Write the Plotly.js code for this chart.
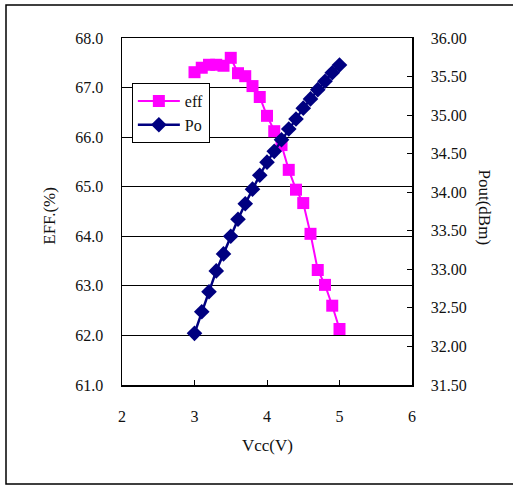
<!DOCTYPE html>
<html>
<head>
<meta charset="utf-8">
<script src="https://cdn.plot.ly/plotly-3.0.1.min.js"></script>
<style>html,body{margin:0;padding:0;background:#fff;}</style>
</head>
<body>
<div id="chart" style="width:513px;height:485px;"></div>
<script>
const vcc = [3.0,3.1,3.2,3.3,3.4,3.5,3.6,3.7,3.8,3.9,4.0,4.1,4.2,4.3,4.4,4.5,4.6,4.7,4.8,4.9,5.0];
const eff = [67.31,67.40,67.46,67.46,67.44,67.60,67.29,67.23,67.03,66.81,66.43,66.12,65.84,65.34,64.94,64.67,64.05,63.32,63.02,62.60,62.13];
const po  = [32.17,32.45,32.71,32.98,33.20,33.43,33.65,33.85,34.04,34.22,34.39,34.53,34.68,34.82,34.95,35.09,35.21,35.33,35.44,35.55,35.65];
const xTicks = [2,3,4,5,6];
const effTicks = [61,62,63,64,65,66,67,68];
const poTicks = [31.5,32,32.5,33,33.5,34,34.5,35,35.5,36];

const FONT = 'Liberation Serif, Times New Roman, serif';

const traces = [
  {x: vcc, y: eff, name: 'eff', type: 'scatter', mode: 'lines+markers',
   line: {color: '#FF00FF', width: 2},
   marker: {symbol: 'square', size: 12, color: '#FF00FF'}},
  {x: vcc, y: po, name: 'Po', type: 'scatter', mode: 'lines+markers', yaxis: 'y2',
   line: {color: '#000080', width: 2.5},
   marker: {symbol: 'diamond', size: 12, color: '#000080'}}
];

const layout = {
  width: 513, height: 485,
  margin: {l: 122, r: 101, t: 38, b: 100},
  paper_bgcolor: '#fff', plot_bgcolor: '#fff',
  font: {family: FONT, size: 16, color: '#111'},
  showlegend: true,
  legend: {x: 0.034, y: 0.87, xanchor: 'left', yanchor: 'top',
    bgcolor: '#fff', bordercolor: '#000', borderwidth: 1,
    font: {family: FONT, size: 16, color: '#111'}, itemwidth: 42, tracegroupgap: 0},
  xaxis: {range: [2, 6], tickvals: xTicks, ticktext: xTicks.map(String),
    showgrid: false, zeroline: false, showline: true, linecolor: '#000', linewidth: 1.5, mirror: true,
    ticks: 'inside', ticklen: 5, tickcolor: '#000', ticklabelstandoff: 16},
  yaxis: {range: [61, 68], tickvals: effTicks, ticktext: effTicks.map(v => v.toFixed(1)),
    showgrid: true, gridcolor: '#000', gridwidth: 1, zeroline: false,
    showline: true, linecolor: '#000', linewidth: 1.5,
    ticks: 'inside', ticklen: 5, tickcolor: '#000', ticklabelstandoff: 14},
  yaxis2: {range: [31.5, 36], overlaying: 'y', side: 'right', tickvals: poTicks,
    ticktext: poTicks.map(v => v.toFixed(2)),
    showgrid: false, zeroline: false, showline: true, linecolor: '#000', linewidth: 1.5,
    ticks: 'inside', ticklen: 5, tickcolor: '#000', ticklabelstandoff: 14},
  annotations: [
    {text: 'Vcc(V)', xref: 'paper', yref: 'paper', x: 0.5, y: -0.173, showarrow: false,
     xanchor: 'center', yanchor: 'middle', font: {family: FONT, size: 17, color: '#111'}},
    {text: 'EFF.(%)', xref: 'paper', yref: 'paper', x: -0.248, y: 0.488, showarrow: false,
     textangle: -90, xanchor: 'center', yanchor: 'middle', font: {family: FONT, size: 17, color: '#111'}},
    {text: 'Pout(dBm)', xref: 'paper', yref: 'paper', x: 1.25, y: 0.513, showarrow: false,
     textangle: 90, xanchor: 'center', yanchor: 'middle', font: {family: FONT, size: 17, color: '#111'}}
  ],
  shapes: [
    {type: 'rect', xref: 'paper', yref: 'paper', x0: -0.4, x1: 1.36, y0: -0.2853, y1: 1.095,
     line: {color: '#000', width: 1.5}, fillcolor: 'rgba(0,0,0,0)'}
  ]
};

Plotly.newPlot('chart', traces, layout, {displayModeBar: false, staticPlot: true});
</script>
</body>
</html>
